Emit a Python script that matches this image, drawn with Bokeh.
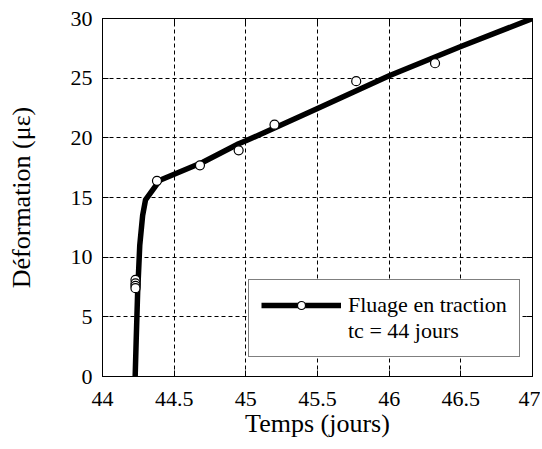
from bokeh.plotting import figure
from bokeh.models import Range1d, FixedTicker, NumeralTickFormatter, LinearAxis, Legend, LegendItem
from bokeh.embed import file_html
from bokeh.resources import INLINE

# fitted creep curve
curve_t = [44.228, 44.235, 44.245, 44.26, 44.28, 44.30, 44.40, 44.70, 44.95, 45.00, 45.50, 46.00, 46.50, 47.00]
curve_def = [0.0, 3.0, 7.0, 11.0, 13.5, 14.8, 16.45, 17.95, 19.5, 19.75, 22.45, 25.2, 27.65, 30.0]

# measured points
meas_t = [44.23, 44.23, 44.23, 44.23, 44.38, 44.68, 44.95, 45.20, 45.77, 46.32]
meas_def = [8.1, 7.8, 7.6, 7.4, 16.4, 17.7, 18.95, 21.1, 24.75, 26.25]

x_ticks = [44, 44.5, 45, 45.5, 46, 46.5, 47]
y_ticks = [0, 5, 10, 15, 20, 25, 30]

x_title = "Temps (jours)"
y_title = "Déformation (με)"
series_label = "Fluage en traction"
series_note = "tc = 44 jours"

FONT = "Liberation Serif"

p = figure(width=540, height=447, output_backend="svg", toolbar_location=None,
           x_range=Range1d(44, 47), y_range=Range1d(0, 30),
           min_border_left=102, min_border_right=8, min_border_top=18, min_border_bottom=71,
           x_axis_label=x_title, y_axis_label=y_title)
p.background_fill_color = "white"
p.border_fill_color = "white"
p.outline_line_color = "black"
p.outline_line_width = 1

for ax, ticks in ((p.xaxis[0], x_ticks), (p.yaxis[0], y_ticks)):
    ax.ticker = FixedTicker(ticks=ticks)
    ax.formatter = NumeralTickFormatter(format="0.[0]")
    ax.major_tick_in = 6
    ax.major_tick_out = 0
    ax.minor_tick_line_color = None
    ax.axis_line_color = "black"
    ax.major_tick_line_color = "black"
    ax.major_label_text_font = FONT
    ax.major_label_text_font_size = "22px"
    ax.major_label_text_color = "black"
    ax.axis_label_text_font = FONT
    ax.axis_label_text_font_size = "26px"
    ax.axis_label_text_font_style = "normal"
    ax.axis_label_text_color = "black"

p.yaxis[0].major_label_standoff = 10
p.xaxis[0].major_label_standoff = 15
p.yaxis[0].axis_label_standoff = 32
p.xaxis[0].axis_label_standoff = 0

# mirrored axes (ticks only, no labels)
top = LinearAxis(ticker=FixedTicker(ticks=x_ticks), major_label_text_font_size="0px",
                 major_label_text_color=None,
                 major_tick_in=6, major_tick_out=0, minor_tick_line_color=None,
                 major_label_standoff=0)
right = LinearAxis(ticker=FixedTicker(ticks=y_ticks), major_label_text_font_size="0px",
                   major_label_text_color=None,
                   major_tick_in=6, major_tick_out=0, minor_tick_line_color=None,
                   major_label_standoff=0)
p.add_layout(top, "above")
p.add_layout(right, "right")

p.xgrid.ticker = FixedTicker(ticks=x_ticks)
p.ygrid.ticker = FixedTicker(ticks=y_ticks)
for g in (p.xgrid[0], p.ygrid[0]):
    g.grid_line_color = "black"
    g.grid_line_dash = "4 3"
    g.grid_line_width = 1

line_r = p.line(curve_t, curve_def, line_color="black", line_width=5.5, line_join="round")
pts_r = p.scatter(meas_t, meas_def, marker="circle", size=9, fill_color="white",
                  line_color="black", line_width=1.2)
dummy = p.line([44.0], [0.0], line_alpha=0)

legend = Legend(items=[LegendItem(label=series_label, renderers=[line_r, pts_r]),
                       LegendItem(label=series_note, renderers=[dummy])],
                location=(146, 19), margin=0, padding=12, spacing=0,
                glyph_width=80, glyph_height=20, label_height=25, label_standoff=7,
                label_text_font=FONT, label_text_font_size="22px", label_text_color="black",
                border_line_color="black", border_line_width=1,
                background_fill_color="white", background_fill_alpha=1)
p.add_layout(legend)

open("out.html", "w").write(file_html(p, INLINE))
